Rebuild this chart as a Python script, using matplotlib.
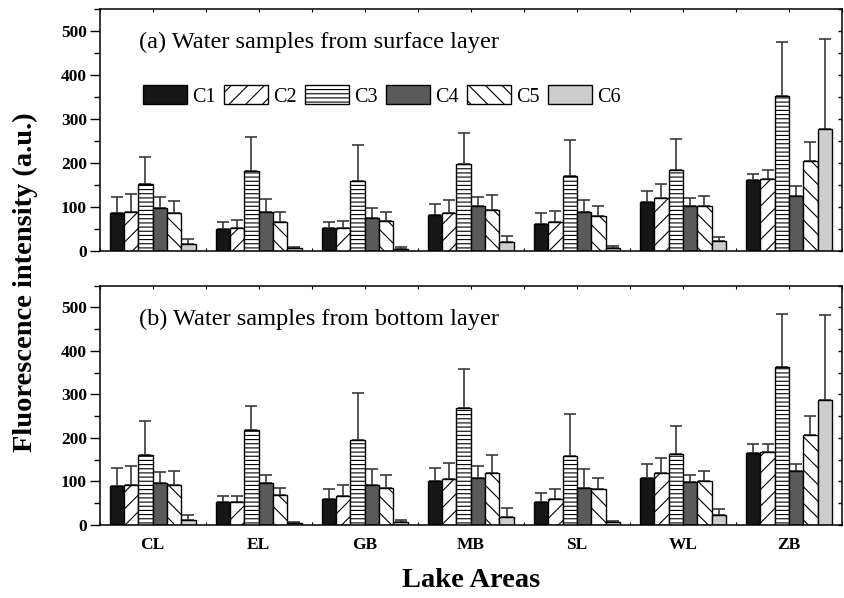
import numpy as np
import matplotlib
matplotlib.use("Agg")
import matplotlib.pyplot as plt
from matplotlib.ticker import MultipleLocator

# Lake areas and fluorescence components
lakes = ["CL", "EL", "GB", "MB", "SL", "WL", "ZB"]
components = ["C1", "C2", "C3", "C4", "C5", "C6"]

# (a) surface layer: mean intensity per component, one list per lake
surface_mean = {
    "C1": [86, 50, 51, 82, 61, 110, 161],
    "C2": [88, 52, 51, 86, 65, 119, 164],
    "C3": [152, 180, 158, 197, 169, 184, 352],
    "C4": [96, 88, 74, 101, 87, 102, 124],
    "C5": [86, 66, 68, 92, 79, 102, 204],
    "C6": [16, 6, 4, 19, 7, 21, 277],
}
surface_sd = {
    "C1": [37, 16, 14, 23, 24, 26, 13],
    "C2": [41, 18, 16, 29, 25, 32, 20],
    "C3": [61, 78, 82, 71, 83, 70, 122],
    "C4": [27, 29, 22, 22, 29, 17, 22],
    "C5": [27, 23, 21, 34, 23, 23, 44],
    "C6": [11, 3, 4, 15, 3, 9, 204],
}

# (b) bottom layer
bottom_mean = {
    "C1": [89, 53, 60, 100, 53, 109, 165],
    "C2": [93, 53, 67, 105, 59, 119, 167],
    "C3": [160, 218, 195, 269, 158, 162, 362],
    "C4": [96, 96, 92, 107, 86, 99, 125],
    "C5": [91, 70, 86, 119, 82, 100, 206],
    "C6": [12, 5, 6, 18, 6, 22, 287],
}
bottom_sd = {
    "C1": [42, 13, 23, 31, 20, 32, 22],
    "C2": [43, 13, 26, 38, 24, 34, 20],
    "C3": [78, 56, 108, 90, 96, 66, 123],
    "C4": [26, 19, 36, 29, 42, 16, 16],
    "C5": [32, 16, 28, 42, 27, 24, 45],
    "C6": [10, 2, 5, 22, 4, 15, 196],
}

colors = ["#161616", "white", "white", "#5a5a5a", "white", "#cdcdcd"]
hatches = ["", "//", "----", "", "\\\\", ""]

plt.rcParams["font.family"] = ["Liberation Serif", "DejaVu Serif"]
plt.rcParams["hatch.linewidth"] = 0.8

fig = plt.figure(figsize=(8.45, 5.98), dpi=100)
ax_top = fig.add_axes([0.1178, 0.5808, 0.8787, 0.4047])
ax_bot = fig.add_axes([0.1178, 0.1221, 0.8787, 0.4002])

x = np.arange(len(lakes))
width = 0.135


def draw_panel(ax, means, sds, title, title_y):
    for i, comp in enumerate(components):
        vals = np.array(means[comp])
        errs = np.array(sds[comp])
        pos = x + (i - 2.5) * width
        ax.bar(pos, vals, width, color=colors[i], edgecolor="black",
               linewidth=1.0, hatch=hatches[i], label=comp, zorder=2)
        ax.errorbar(pos, vals, yerr=[np.zeros_like(errs), errs], fmt="none",
                    ecolor="#3a3a3a", elinewidth=1.2, capsize=4.3,
                    capthick=1.2, zorder=1)
    ax.set_xlim(-0.5, 6.5)
    ax.set_ylim(0, 550)
    ax.yaxis.set_major_locator(MultipleLocator(100))
    ax.yaxis.set_minor_locator(MultipleLocator(50))
    ax.set_xticks(x)
    ax.xaxis.set_minor_locator(MultipleLocator(0.5))
    ax.tick_params(axis="y", which="major", direction="out", length=7.2,
                   width=1.0, labelsize=12.5, pad=2)
    ax.tick_params(axis="y", which="minor", direction="out", length=4.3,
                   width=1.0)
    ax.tick_params(axis="x", which="both", direction="in", length=2.5,
                   width=0.8, top=True, bottom=True, labelsize=12.5, pad=9)
    for lbl in ax.get_yticklabels():
        lbl.set_fontweight("bold")
    for sp in ax.spines.values():
        sp.set_linewidth(1.1)
    ax.text(0.053, title_y, title, transform=ax.transAxes, fontsize=17.6,
            va="center", ha="left")


draw_panel(ax_top, surface_mean, surface_sd,
           "(a) Water samples from surface layer", 0.862)
draw_panel(ax_bot, bottom_mean, bottom_sd,
           "(b) Water samples from bottom layer", 0.857)

# short inward ticks on the right spine
for ax in (ax_top, ax_bot):
    ax.yaxis.set_tick_params(which="both", right=True)
    for t in ax.yaxis.get_major_ticks() + ax.yaxis.get_minor_ticks():
        t.tick2line.set_marker(matplotlib.lines.TICKLEFT)
        t.tick2line.set_markersize(3)

ax_top.set_xticklabels([])
ax_bot.set_xticklabels(lakes, fontweight="bold")

ax_top.legend(loc="center left", bbox_to_anchor=(0.0586, 0.639), ncol=6,
              frameon=False, fontsize=14.5, handlelength=2.2,
              handleheight=1.05, handletextpad=0.25, columnspacing=0.4,
              borderpad=0, borderaxespad=0)

fig.text(0.03, 0.528, "Fluorescence intensity (a.u.)", rotation=90,
         fontsize=20.5, fontweight="bold", ha="center", va="center")
fig.text(0.557, 0.03, "Lake Areas", fontsize=20.5, fontweight="bold",
         ha="center", va="center")

fig.savefig("out.png", dpi=100)
